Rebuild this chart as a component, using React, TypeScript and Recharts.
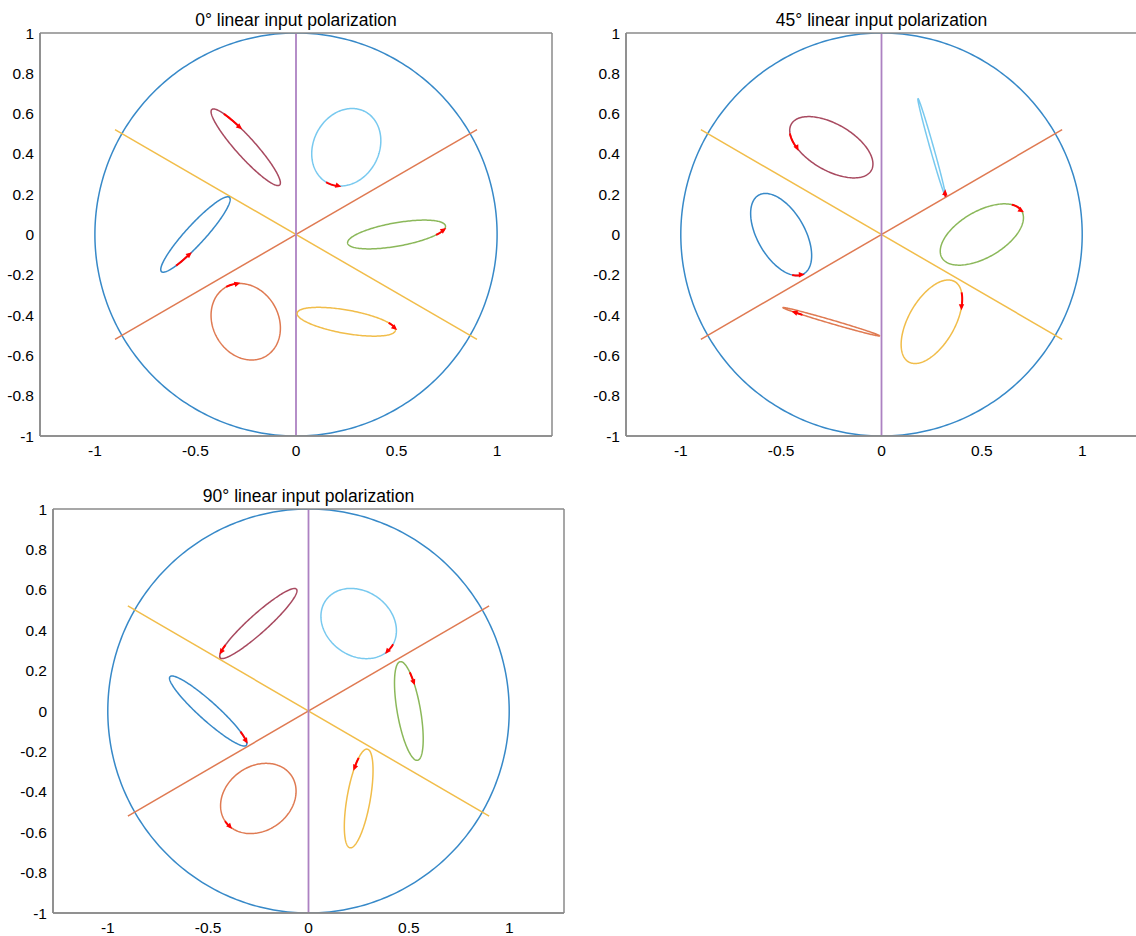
import React from 'react';
import { LineChart, Line, XAxis, YAxis } from 'recharts';

// ---------- text / ticks ----------
const TITLES = [
  '0\u00b0 linear input polarization',
  '45\u00b0 linear input polarization',
  '90\u00b0 linear input polarization',
];
const X_TICKS = [-1, -0.5, 0, 0.5, 1];
const Y_TICKS = [-1, -0.8, -0.6, -0.4, -0.2, 0, 0.2, 0.4, 0.6, 0.8, 1];
const X_LIMIT = 1.273;
const Y_LIMIT = 1;

// ---------- reference geometry ----------
const CIRCLE_RADIUS = 1;
const SPOKE_30: number[][] = [[-0.9, -0.52], [0.9, 0.52]];
const SPOKE_M30: number[][] = [[-0.9, 0.52], [0.9, -0.52]];
const SPOKE_90: number[][] = [[0, -1], [0, 1]];

// ellipse centres (green, light blue, dark red, blue, orange, yellow)
const CENTER_X = [0.5, 0.25, -0.25, -0.5, -0.25, 0.25];
const CENTER_Y = [0, 0.433, 0.433, 0, -0.433, -0.433];

// panel 0 deg
const SEMI_MAJOR_0 = [0.247, 0.2, 0.252, 0.25, 0.198, 0.248];
const SEMI_MINOR_0 = [0.058, 0.163, 0.048, 0.048, 0.163, 0.058];
const TILT_0 = [10, 62, 132, 47.5, 120, -10];
const ARROWS_0: number[][] = [
  [0.7, -0.002, 0.758, 0.026],
  [0.15, 0.26, 0.21, 0.234],
  [-0.358, 0.598, -0.292, 0.575],
  [-0.597, -0.156, -0.541, -0.138],
  [-0.348, -0.259, -0.292, -0.239],
  [0.451, -0.438, 0.509, -0.467],
];

// panel 45 deg
const SEMI_MAJOR_45 = [0.23, 0.251, 0.23, 0.225, 0.251, 0.23];
const SEMI_MINOR_45 = [0.115, 0.009, 0.115, 0.118, 0.009, 0.115];
const TILT_45 = [30, 105.8, 150, 120, -16.2, 60];
const ARROWS_45: number[][] = [
  [0.639, 0.138, 0.697, 0.118],
  [0.304, 0.237, 0.324, 0.185],
  [-0.435, 0.494, -0.422, 0.428],
  [-0.447, -0.193, -0.392, -0.209],
  [-0.372, -0.404, -0.425, -0.388],
  [0.394, -0.292, 0.41, -0.355],
];

// panel 90 deg
const SEMI_MAJOR_90 = [0.248, 0.2, 0.255, 0.255, 0.2, 0.248];
const SEMI_MINOR_90 = [0.058, 0.16, 0.046, 0.046, 0.16, 0.058];
const TILT_90 = [100, -34.5, 41.8, 138.2, 34.5, 80];
const ARROWS_90: number[][] = [
  [0.505, 0.203, 0.526, 0.149],
  [0.419, 0.332, 0.399, 0.286],
  [-0.432, 0.315, -0.444, 0.286],
  [-0.327, -0.11, -0.307, -0.152],
  [-0.42, -0.548, -0.399, -0.581],
  [0.25, -0.239, 0.23, -0.289],
];

// ---------- styles ----------
const C_BLUE = '#3789c8';
const C_ORANGE = '#df7a52';
const C_YELLOW = '#f1bd4a';
const C_PURPLE = '#ad82c2';
const C_GREEN = '#8bb85a';
const C_LIGHTBLUE = '#78c9ef';
const C_DARKRED = '#a84a60';
const C_ARROW = '#ff0000';
const C_BOX = '#8a8a8a';
const ELLIPSE_COLORS = [C_GREEN, C_LIGHTBLUE, C_DARKRED, C_BLUE, C_ORANGE, C_YELLOW];
const FONT = '"Liberation Sans", Arial, Helvetica, sans-serif';

type Pt = { x: number; y: number; head?: boolean; dir?: number };

const PANEL_DATA = [
  { major: SEMI_MAJOR_0, minor: SEMI_MINOR_0, tilt: TILT_0, arrows: ARROWS_0 },
  { major: SEMI_MAJOR_45, minor: SEMI_MINOR_45, tilt: TILT_45, arrows: ARROWS_45 },
  { major: SEMI_MAJOR_90, minor: SEMI_MINOR_90, tilt: TILT_90, arrows: ARROWS_90 },
];

const PANEL_LAYOUT = [
  { left: 0, top: 0, width: 560, height: 470, margin: { top: 33, right: 8, bottom: 0, left: 10 }, xh: 34 },
  { left: 576, top: 0, width: 570, height: 470, margin: { top: 33, right: 9, bottom: 0, left: 20 }, xh: 34 },
  { left: 0, top: 476, width: 570, height: 460, margin: { top: 33, right: 6, bottom: 0, left: 23 }, xh: 23 },
];

// ---------- helpers ----------
function ellipseAt(cx: number, cy: number, a: number, b: number, th: number, t: number): Pt {
  const u = a * Math.cos(t);
  const v = b * Math.sin(t);
  return { x: cx + u * Math.cos(th) - v * Math.sin(th), y: cy + u * Math.sin(th) + v * Math.cos(th) };
}

function ellipsePoints(cx: number, cy: number, a: number, b: number, tiltDeg: number, n = 200): Pt[] {
  const th = (tiltDeg * Math.PI) / 180;
  const pts: Pt[] = [];
  for (let i = 0; i <= n; i++) pts.push(ellipseAt(cx, cy, a, b, th, (2 * Math.PI * i) / n));
  return pts;
}

function arrowArc(cx: number, cy: number, a: number, b: number, tiltDeg: number, ar: number[]): Pt[] {
  const th = (tiltDeg * Math.PI) / 180;
  const param = (x: number, y: number) => {
    const dx = x - cx;
    const dy = y - cy;
    const u = dx * Math.cos(th) + dy * Math.sin(th);
    const v = -dx * Math.sin(th) + dy * Math.cos(th);
    return Math.atan2(v / b, u / a);
  };
  const t1 = param(ar[0], ar[1]);
  const t2 = param(ar[2], ar[3]);
  let d = t2 - t1;
  while (d > Math.PI) d -= 2 * Math.PI;
  while (d < -Math.PI) d += 2 * Math.PI;
  const n = 10;
  const pts: Pt[] = [];
  for (let i = 0; i <= n; i++) pts.push(ellipseAt(cx, cy, a, b, th, t1 + (d * i) / n));
  const first = pts[0];
  const last = pts[n];
  pts[n] = { ...last, head: true, dir: Math.atan2(last.y - first.y, last.x - first.x) };
  return pts;
}

const toPts = (arr: number[][]): Pt[] => arr.map((p) => ({ x: p[0], y: p[1] }));

const arrowHead = (props: any) => {
  const { cx, cy, payload, index } = props;
  if (!payload || !payload.head || cx == null || cy == null) return <g key={`ah${index}`} />;
  const ang = -payload.dir;
  const L = 6;
  const W = 2.7;
  const ca = Math.cos(ang);
  const sa = Math.sin(ang);
  const tx = cx + ca * L * 0.5;
  const ty = cy + sa * L * 0.5;
  const bx = cx - ca * L * 0.5;
  const by = cy - sa * L * 0.5;
  const p1x = bx - sa * W;
  const p1y = by + ca * W;
  const p2x = bx + sa * W;
  const p2y = by - ca * W;
  return <polygon key={`ah${index}`} points={`${tx},${ty} ${p1x},${p1y} ${p2x},${p2y}`} fill={C_ARROW} />;
};

const tickText = { fill: '#000', fontSize: 15.5, fontFamily: FONT };
const boxLine = { stroke: C_BOX, strokeWidth: 1.5 };
const boxTick = { stroke: C_BOX, strokeWidth: 1.2 };

function Panel({ idx }: { idx: number }) {
  const lay = PANEL_LAYOUT[idx];
  const pd = PANEL_DATA[idx];
  const circle = ellipsePoints(0, 0, CIRCLE_RADIUS, CIRCLE_RADIUS, 0, 360);
  const ellipses = CENTER_X.map((cx, i) => ellipsePoints(cx, CENTER_Y[i], pd.major[i], pd.minor[i], pd.tilt[i]));
  const arrows = CENTER_X.map((cx, i) => arrowArc(cx, CENTER_Y[i], pd.major[i], pd.minor[i], pd.tilt[i], pd.arrows[i]));
  const xd: [number, number] = [-X_LIMIT, X_LIMIT];
  const yd: [number, number] = [-Y_LIMIT, Y_LIMIT];
  const plotLeft = lay.left + lay.margin.left + 30;
  const plotWidth = lay.width - lay.margin.left - 30 - lay.margin.right;
  return (
    <>
      <div
        style={{
          position: 'absolute',
          left: plotLeft,
          width: plotWidth,
          top: lay.top + lay.margin.top - 23,
          fontFamily: FONT,
          fontSize: 17.5,
          lineHeight: '20px',
          textAlign: 'center',
          color: '#000',
          whiteSpace: 'nowrap',
        }}
      >
        {TITLES[idx]}
      </div>
      <div style={{ position: 'absolute', left: lay.left, top: lay.top }}>
        <LineChart width={lay.width} height={lay.height} margin={lay.margin}>
          <XAxis
            type="number"
            dataKey="x"
            domain={xd}
            ticks={X_TICKS}
            allowDataOverflow
            interval={0}
            axisLine={boxLine}
            tickLine={false}
            tickSize={6}
            tickMargin={3}
            height={lay.xh}
            tick={tickText}
          />
          <YAxis
            type="number"
            dataKey="y"
            domain={yd}
            ticks={Y_TICKS}
            allowDataOverflow
            interval={0}
            axisLine={boxLine}
            tickLine={false}
            tickSize={4}
            tickMargin={2}
            width={30}
            tick={tickText}
          />
          <XAxis xAxisId="bt" orientation="bottom" mirror type="number" dataKey="x" domain={xd} ticks={X_TICKS} allowDataOverflow interval={0} height={1} tick={false} tickSize={5} axisLine={boxLine} tickLine={boxTick} />
          <XAxis xAxisId="tp" orientation="top" mirror type="number" dataKey="x" domain={xd} ticks={X_TICKS} allowDataOverflow interval={0} height={1} tick={false} tickSize={5} axisLine={boxLine} tickLine={boxTick} />
          <YAxis yAxisId="lf" orientation="left" mirror type="number" dataKey="y" domain={yd} ticks={Y_TICKS} allowDataOverflow interval={0} width={1} tick={false} tickSize={5} axisLine={boxLine} tickLine={boxTick} />
          <YAxis yAxisId="rt" orientation="right" mirror type="number" dataKey="y" domain={yd} ticks={Y_TICKS} allowDataOverflow interval={0} width={1} tick={false} tickSize={5} axisLine={boxLine} tickLine={boxTick} />

          <Line xAxisId="bt" yAxisId="lf" data={toPts(SPOKE_90)} dataKey="y" type="linear" stroke="none" strokeWidth={0} dot={false} activeDot={false} isAnimationActive={false} />
          <Line xAxisId="tp" yAxisId="rt" data={toPts(SPOKE_90)} dataKey="y" type="linear" stroke="none" strokeWidth={0} dot={false} activeDot={false} isAnimationActive={false} />

          <Line data={circle} dataKey="y" type="linear" stroke={C_BLUE} strokeWidth={1.5} dot={false} activeDot={false} isAnimationActive={false} />
          <Line data={toPts(SPOKE_30)} dataKey="y" type="linear" stroke={C_ORANGE} strokeWidth={1.5} dot={false} activeDot={false} isAnimationActive={false} />
          <Line data={toPts(SPOKE_M30)} dataKey="y" type="linear" stroke={C_YELLOW} strokeWidth={1.5} dot={false} activeDot={false} isAnimationActive={false} />
          <Line data={toPts(SPOKE_90)} dataKey="y" type="linear" stroke={C_PURPLE} strokeWidth={1.8} dot={false} activeDot={false} isAnimationActive={false} />
          {ellipses.map((pts, i) => (
            <Line key={`e${i}`} data={pts} dataKey="y" type="linear" stroke={ELLIPSE_COLORS[i]} strokeWidth={1.5} dot={false} activeDot={false} isAnimationActive={false} />
          ))}
          {arrows.map((pts, i) => (
            <Line key={`a${i}`} data={pts} dataKey="y" type="linear" stroke={C_ARROW} strokeWidth={2} dot={arrowHead} activeDot={false} isAnimationActive={false} />
          ))}
        </LineChart>
      </div>
    </>
  );
}

export default function App() {
  return (
    <div style={{ position: 'absolute', left: 0, top: 0, width: 1136, height: 936, overflow: 'hidden', background: '#fff' }}>
      <Panel idx={0} />
      <Panel idx={1} />
      <Panel idx={2} />
    </div>
  );
}
